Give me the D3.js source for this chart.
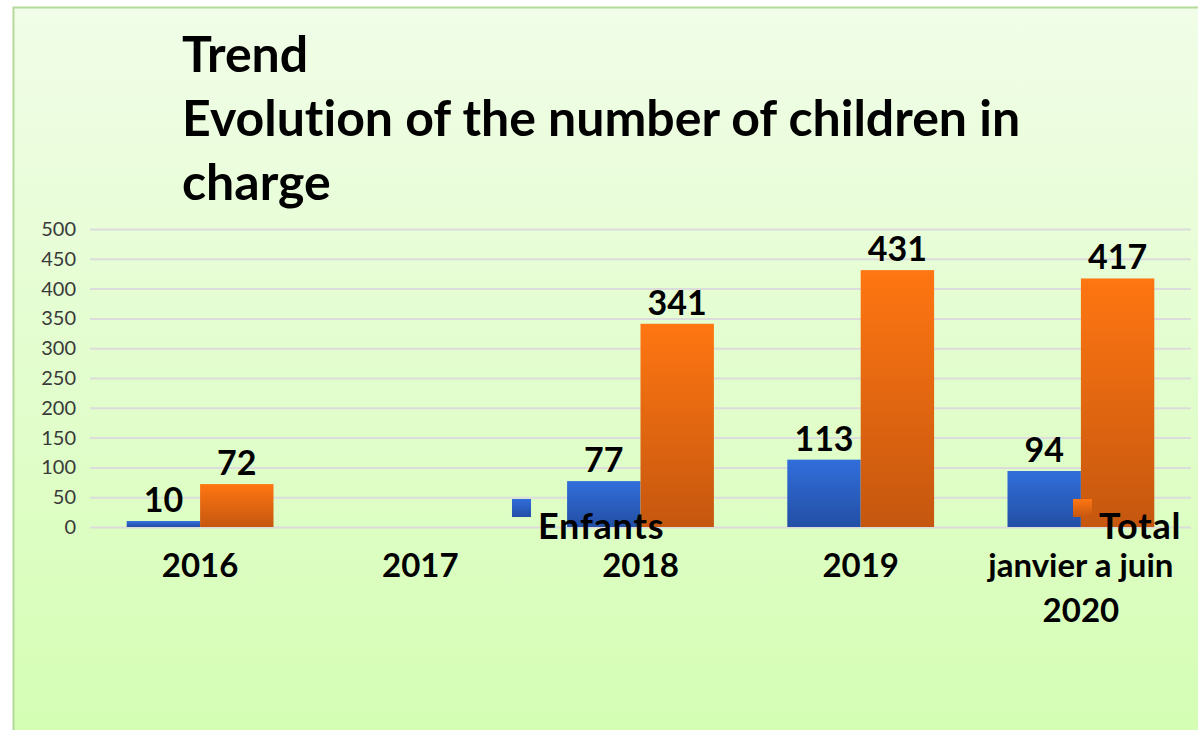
<!DOCTYPE html>
<html lang="en">
<head>
    <meta charset="UTF-8">
    <title>Trend</title>
    <script src="https://d3js.org/d3.v7.min.js"></script>
    <style>
        body { margin: 0; background: #ffffff; }
        text { font-family: Lato, "Open Sans", sans-serif; font-variant-ligatures: none; }
    </style>
</head>
<body>
<div id="chart"></div>

<script type=text/javascript>
    var categories = ["2016", "2017", "2018", "2019", "janvier a juin 2020"];
    var categoryLines = [["2016"], ["2017"], ["2018"], ["2019"], ["janvier a juin", "2020"]];
    var seriesNames = ["Enfants", "Total"];
    var enfants = [10, null, 77, 113, 94];
    var total = [72, null, 341, 431, 417];
    var yTicks = [0, 50, 100, 150, 200, 250, 300, 350, 400, 450, 500];
    var titleLines = ["Trend", "Evolution of the number of children in", "charge"];

    var width = 1198;
    var height = 730;

    var svg = d3.select("#chart")
        .append("svg")
        .attr("width", width)
        .attr("height", height);

    var defs = svg.append("defs");

    var bg = defs.append("linearGradient")
        .attr("id", "bg")
        .attr("x1", 0).attr("y1", 0).attr("x2", 0).attr("y2", 1);
    bg.append("stop").attr("offset", "0%").attr("stop-color", "#f1fde8");
    bg.append("stop").attr("offset", "100%").attr("stop-color", "#d4feb3");

    var blueGrad = defs.append("linearGradient")
        .attr("id", "blueGrad")
        .attr("x1", 0).attr("y1", 0).attr("x2", 0).attr("y2", 1);
    blueGrad.append("stop").attr("offset", "0%").attr("stop-color", "#316edb");
    blueGrad.append("stop").attr("offset", "100%").attr("stop-color", "#234fa5");

    var orangeGrad = defs.append("linearGradient")
        .attr("id", "orangeGrad")
        .attr("x1", 0).attr("y1", 0).attr("x2", 0).attr("y2", 1);
    orangeGrad.append("stop").attr("offset", "0%").attr("stop-color", "#ff7612");
    orangeGrad.append("stop").attr("offset", "100%").attr("stop-color", "#c5570f");

    var colors = {"Enfants": "url(#blueGrad)", "Total": "url(#orangeGrad)"};

    // frame
    svg.append("rect")
        .attr("x", 13.5)
        .attr("y", 7.5)
        .attr("width", 1210)
        .attr("height", 740)
        .attr("fill", "url(#bg)")
        .attr("stroke", "#b4da9a")
        .attr("stroke-width", 2);

    // title
    svg.append("g")
        .selectAll("text")
        .data(titleLines)
        .enter()
        .append("text")
        .attr("x", 182)
        .attr("y", function (d, i) { return 72 + i * 64; })
        .attr("font-size", "50px")
        .attr("font-weight", "bold")
        .attr("fill", "#000")
        .text(function (d) { return d; });

    var x = d3.scaleBand()
        .domain(categories)
        .range([90, 1191])
        .paddingInner(1 / 3)
        .paddingOuter(1 / 6);

    var xSub = d3.scaleBand()
        .domain(seriesNames)
        .range([0, x.bandwidth()]);

    var y = d3.scaleLinear()
        .domain([0, 500])
        .range([527, 229]);

    // grid + y labels
    var yAxis = svg.append("g")
        .attr("transform", "translate(90,0)")
        .call(d3.axisLeft(y).tickValues(yTicks).tickSize(-(1191 - 90)).tickPadding(14));
    yAxis.select(".domain").remove();
    yAxis.selectAll(".tick line")
        .attr("stroke", "#dcdcdc")
        .attr("stroke-width", 2);
    yAxis.selectAll(".tick text")
        .attr("fill", "#3a3a3a")
        .attr("font-size", "20px")
        .style("font-family", "Lato, sans-serif");

    var rows = categories.map(function (c, i) {
        return {cat: c, values: [{name: "Enfants", v: enfants[i]}, {name: "Total", v: total[i]}]};
    });

    var groups = svg.append("g")
        .selectAll("g")
        .data(rows)
        .enter()
        .append("g")
        .attr("transform", function (d) { return "translate(" + x(d.cat) + ",0)"; });

    var cells = groups.selectAll("g")
        .data(function (d) { return d.values.filter(function (e) { return e.v !== null; }); })
        .enter()
        .append("g");

    cells.append("rect")
        .attr("x", function (d) { return xSub(d.name); })
        .attr("y", function (d) { return y(d.v); })
        .attr("width", xSub.bandwidth())
        .attr("height", function (d) { return y(0) - y(d.v); })
        .attr("fill", function (d) { return colors[d.name]; });

    cells.append("text")
        .attr("x", function (d) { return xSub(d.name) + xSub.bandwidth() / 2; })
        .attr("y", function (d) { return y(d.v) - 9; })
        .attr("text-anchor", "middle")
        .attr("font-size", "34px")
        .attr("font-weight", "bold")
        .attr("fill", "#000")
        .text(function (d) { return d.v; });

    // category labels
    var catLabels = svg.append("g")
        .selectAll("text")
        .data(categories)
        .enter()
        .append("text")
        .attr("x", function (d) { return x(d) + x.bandwidth() / 2; })
        .attr("y", 577)
        .attr("text-anchor", "middle")
        .attr("font-size", "33px")
        .attr("font-weight", "bold")
        .attr("fill", "#000");

    catLabels.selectAll("tspan")
        .data(function (d, i) { return categoryLines[i]; })
        .enter()
        .append("tspan")
        .attr("x", function () { var p = this.parentNode; return p.getAttribute("x"); })
        .attr("dy", function (d, i) { return i === 0 ? 0 : 45; })
        .text(function (d) { return d; });

    // legend (sits over the plot like in the original)
    var legendPos = [{name: "Enfants", x: 512}, {name: "Total", x: 1073}];
    var legend = svg.append("g")
        .selectAll("g")
        .data(legendPos)
        .enter()
        .append("g");

    legend.append("rect")
        .attr("x", function (d) { return d.x; })
        .attr("y", 499)
        .attr("width", 19)
        .attr("height", 18)
        .attr("fill", function (d) { return colors[d.name]; });

    legend.append("text")
        .attr("x", function (d) { return d.x + 26; })
        .attr("y", 539)
        .attr("font-size", "36px")
        .attr("font-weight", "bold")
        .attr("letter-spacing", "0.8px")
        .attr("fill", "#000")
        .text(function (d) { return d.name; });
</script>
</body>
</html>
